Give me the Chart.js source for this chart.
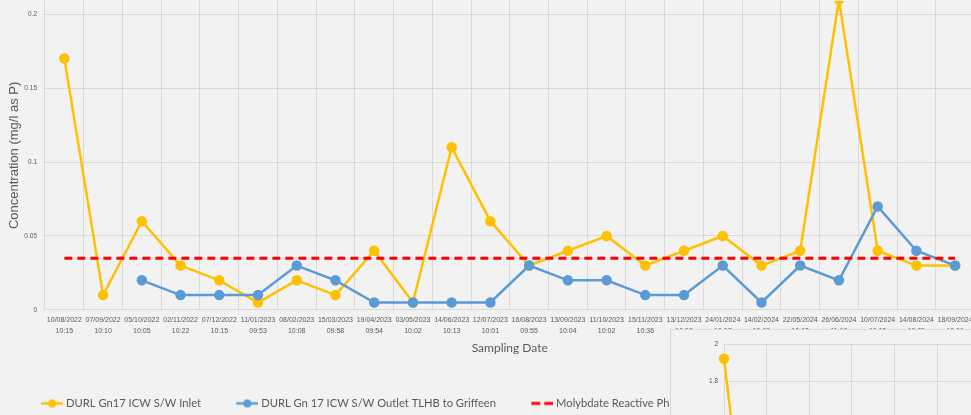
<!DOCTYPE html>
<html>
<head>
<meta charset="utf-8">
<script src="https://cdn.jsdelivr.net/npm/chart.js@4.4.1/dist/chart.umd.min.js"></script>
<style>
  html, body { margin: 0; padding: 0; background: #f2f2f2; overflow: hidden; width: 971px; height: 415px; position: relative; }
  #phosChart { position: absolute; left: 0; top: -11px; width: 981px; height: 430px; }
  #inset { position: absolute; left: 670px; top: 329px; width: 360px; height: 420px; background: #f2f2f2; border: 1px solid #d9d9d9; overflow: hidden; }
  #insetChart { position: absolute; left: 0; top: 0; width: 358px; height: 394px; }
</style>
</head>
<body>
<canvas id="phosChart" width="981" height="430"></canvas>
<div id="inset"><canvas id="insetChart" width="358" height="394"></canvas></div>
<script>
const sampleDates = [
  ['10/08/2022', '10:15'], ['07/09/2022', '10:10'], ['05/10/2022', '10:05'], ['02/11/2022', '10:22'],
  ['07/12/2022', '10:15'], ['11/01/2023', '09:53'], ['08/02/2023', '10:08'], ['15/03/2023', '09:58'],
  ['19/04/2023', '09:54'], ['03/05/2023', '10:02'], ['14/06/2023', '10:13'], ['12/07/2023', '10:01'],
  ['16/08/2023', '09:55'], ['13/09/2023', '10:04'], ['11/10/2023', '10:02'], ['15/11/2023', '10:36'],
  ['13/12/2023', '10:50'], ['24/01/2024', '10:07'], ['14/02/2024', '10:00'], ['22/05/2024', '10:12'],
  ['26/06/2024', '11:10'], ['10/07/2024', '10:15'], ['14/08/2024', '10:05'], ['18/09/2024', '10:01']
];
const inletValues = [0.17, 0.01, 0.06, 0.03, 0.02, 0.005, 0.02, 0.01, 0.04, 0.005, 0.11, 0.06,
  0.03, 0.04, 0.05, 0.03, 0.04, 0.05, 0.03, 0.04, 0.21, 0.04, 0.03, 0.03];
const outletValues = [null, null, 0.02, 0.01, 0.01, 0.01, 0.03, 0.02, 0.005, 0.005, 0.005, 0.005,
  0.03, 0.02, 0.02, 0.01, 0.01, 0.03, 0.005, 0.03, 0.02, 0.07, 0.04, 0.03];
const limitValue = 0.035;
const limitValues = sampleDates.map(() => limitValue);

// the second chart peeking in at the bottom right
const insetLabels = sampleDates.slice(0, 8).map(d => d[0]);
const insetValues = [1.92, 0];

const grey = '#595959';
const gridGrey = '#d9d9d9';
const yellow = '#ffc000';
const blue = '#5b9bd5';
const red = '#ff0000';

Chart.defaults.font.family = "'Liberation Sans', Arial, sans-serif";
Chart.defaults.color = grey;

// only show labels/gridlines that sit on the step; drop the odd top value
const stepLabel = step => v => {
  const n = Math.round(v / step);
  if (Math.abs(n * step - v) > 1e-9) return null;
  return String(+(n * step).toFixed(4));
};

function legendMarker(color, dashed) {
  const c = document.createElement('canvas');
  c.width = 30; c.height = 12;
  const g = c.getContext('2d');
  g.strokeStyle = color;
  g.lineWidth = dashed ? 3 : 2.5;
  if (dashed) g.setLineDash([9, 4]);
  g.beginPath(); g.moveTo(8, 6); g.lineTo(30, 6); g.stroke();
  if (!dashed) {
    g.fillStyle = color;
    g.beginPath(); g.arc(19, 6, 4, 0, Math.PI * 2); g.fill();
  }
  return c;
}
const markers = [legendMarker(yellow), legendMarker(blue), legendMarker(red, true)];

new Chart(document.getElementById('phosChart'), {
  type: 'line',
  data: {
    labels: sampleDates,
    datasets: [{
      label: 'DURL Gn17 ICW S/W Inlet',
      data: inletValues,
      borderColor: yellow, backgroundColor: yellow,
      borderWidth: 2.5, pointRadius: 4, pointHoverRadius: 4,
      tension: 0, order: 3
    }, {
      label: 'DURL Gn 17 ICW S/W Outlet TLHB to Griffeen',
      data: outletValues,
      borderColor: blue, backgroundColor: blue,
      borderWidth: 2.5, pointRadius: 4, pointHoverRadius: 4,
      tension: 0, order: 2
    }, {
      label: 'Molybdate Reactive Phosphorus',
      data: limitValues,
      borderColor: red, backgroundColor: red,
      borderWidth: 3, borderDash: [8, 5], pointRadius: 0,
      tension: 0, order: 1
    }]
  },
  options: {
    responsive: false,
    animation: false,
    layout: { padding: { top: 0, left: 6, right: 0, bottom: 0 } },
    scales: {
      x: {
        offset: true,
        grid: { color: gridGrey, offset: true, drawTicks: false },
        border: { color: gridGrey },
        ticks: { color: grey, font: { size: 7, lineHeight: 1.5 }, padding: 5, maxRotation: 0, autoSkip: false },
        title: {
          display: true, text: 'Sampling Date', color: grey,
          font: { family: 'Lato', size: 12, lineHeight: 1.2 },
          padding: { top: 0, bottom: 12.5 }
        }
      },
      y: {
        min: 0, max: 0.209,
        grid: { color: gridGrey, drawTicks: false },
        border: { display: false },
        ticks: { stepSize: 0.05, color: grey, font: { size: 6.5 }, padding: 8, callback: stepLabel(0.05) },
        title: {
          display: true, text: 'Concentration (mg/l as P)', color: grey,
          font: { size: 13, lineHeight: 1.2 },
          padding: { top: 1, bottom: 0 }
        },
        afterFit: s => { s.width = 39; }
      }
    },
    plugins: {
      tooltip: { enabled: false },
      legend: {
        position: 'bottom',
        align: 'start',
        labels: {
          usePointStyle: true,
          pointStyleWidth: 24.5,
          padding: 30,
          color: grey,
          font: { family: 'Lato', size: 11.2 },
          generateLabels: chart => chart.data.datasets.map((ds, i) => ({
            text: ds.label,
            pointStyle: markers[i],
            fontColor: grey,
            fillStyle: 'transparent',
            strokeStyle: 'transparent',
            lineWidth: 0,
            hidden: false,
            datasetIndex: i
          }))
        }
      }
    }
  }
});

new Chart(document.getElementById('insetChart'), {
  type: 'line',
  data: {
    labels: insetLabels,
    datasets: [{
      data: insetValues,
      borderColor: yellow, backgroundColor: yellow,
      borderWidth: 2.5, pointRadius: 4, tension: 0
    }]
  },
  options: {
    responsive: false,
    animation: false,
    layout: { padding: { top: 14, left: 0, right: 0, bottom: 0 } },
    scales: {
      x: {
        offset: false,
        grid: { color: gridGrey, drawTicks: false },
        border: { color: gridGrey },
        ticks: { display: false }
      },
      y: {
        min: 0, max: 2,
        grid: { color: gridGrey, drawTicks: false },
        border: { display: false },
        ticks: { stepSize: 0.2, color: grey, font: { size: 6.5 }, padding: 6, callback: stepLabel(0.2) },
        afterFit: s => { s.width = 53; }
      }
    },
    plugins: { legend: { display: false }, tooltip: { enabled: false } }
  }
});
</script>
</body>
</html>
